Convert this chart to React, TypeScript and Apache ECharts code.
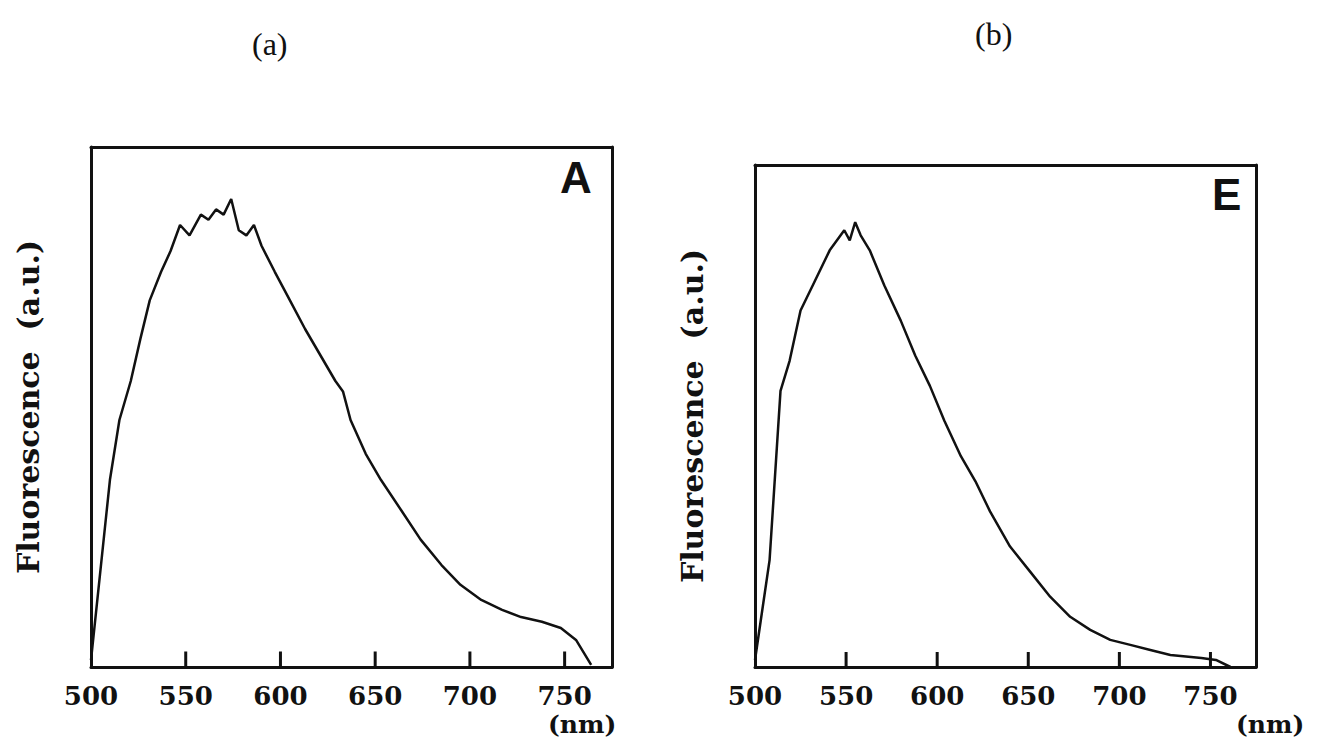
import React, { useEffect, useRef } from 'react';
import * as echarts from 'echarts';

const waveA = [500, 510, 515, 521, 526, 531, 537, 542, 547, 552, 558, 562, 566, 570, 574, 578, 582, 586, 590, 597, 605, 613, 621, 629, 633, 637, 645, 653, 664, 674, 685, 695, 706, 717, 727, 738, 748, 756, 764];
const fluoA = [0.013, 0.36, 0.475, 0.55, 0.63, 0.705, 0.76, 0.8, 0.85, 0.83, 0.87, 0.86, 0.88, 0.87, 0.9, 0.84, 0.83, 0.85, 0.81, 0.76, 0.705, 0.65, 0.6, 0.55, 0.53, 0.475, 0.41, 0.36, 0.3, 0.245, 0.196, 0.158, 0.129, 0.11, 0.096, 0.087, 0.075, 0.052, 0.004];
const waveB = [500, 508, 514, 519, 525, 533, 541, 549, 552, 555, 558, 563, 571, 580, 588, 596, 604, 613, 621, 629, 640, 651, 662, 673, 684, 695, 706, 717, 728, 745, 753, 761];
const fluoB = [0.014, 0.213, 0.55, 0.61, 0.71, 0.77, 0.83, 0.87, 0.85, 0.886, 0.86, 0.83, 0.76, 0.69, 0.62, 0.56, 0.49, 0.42, 0.37, 0.31, 0.24, 0.19, 0.14, 0.1, 0.074, 0.054, 0.044, 0.034, 0.024, 0.018, 0.014, 0];
const tickWaves = [550, 600, 650, 700, 750];

const serif = 'DejaVu Serif';
const line = { show: true, onZero: false, lineStyle: { color: '#111', width: 3 } };

function xAxes(gridIndex: number) {
  return [
    {
      gridIndex, type: 'value', position: 'bottom', min: 500, max: 775, interval: 50, axisLine: line,
      axisTick: { show: false },
      axisLabel: { color: '#111', fontFamily: serif, fontWeight: 'bold', fontSize: 26, margin: 16,
        formatter: (v: number) => (v <= 750 ? String(v) : '') },
      splitLine: { show: false },
    },
    { gridIndex, type: 'value', position: 'top', min: 500, max: 775, axisLine: line, axisTick: { show: false }, axisLabel: { show: false }, splitLine: { show: false } },
  ];
}
function yAxes(gridIndex: number) {
  return [
    { gridIndex, type: 'value', position: 'left', min: 0, max: 1, axisLine: line, axisTick: { show: false }, axisLabel: { show: false }, splitLine: { show: false },
      name: 'Fluorescence  (a.u.)', nameLocation: 'middle', nameGap: 48, nameRotate: 90,
      nameTextStyle: { color: '#111', fontFamily: serif, fontWeight: 'bold', fontSize: 30 } },
    { gridIndex, type: 'value', position: 'right', min: 0, max: 1, axisLine: line, axisTick: { show: false }, axisLabel: { show: false }, splitLine: { show: false } },
  ];
}

// short vertical strokes on the x axis, drawn as broken line segments
const tickSeries = (axis: number) => ({
  type: 'line', xAxisIndex: axis, yAxisIndex: axis, symbol: 'none', connectNulls: false, z: 10,
  lineStyle: { color: '#111', width: 3 },
  data: tickWaves.flatMap((w) => [[w, 0.001], [w, 0.03], [w, '-']]),
});

const App: React.FC = () => {
  const ref = useRef<HTMLDivElement | null>(null);
  useEffect(() => {
    if (!ref.current) return;
    const chart = echarts.init(ref.current, null, { renderer: 'svg' });
    const txt = (left: number, top: number, text: string, style: any) => ({ type: 'text', left, top, style: { text, fill: '#111', ...style } });
    chart.setOption({
      animation: false,
      backgroundColor: '#fff',
      grid: [
        { left: 91, top: 147, width: 521, height: 520 },
        { left: 755, top: 165, width: 501, height: 502 },
      ],
      xAxis: [...xAxes(0), ...xAxes(1)],
      yAxis: [...yAxes(0), ...yAxes(1)],
      series: [
        { type: 'line', xAxisIndex: 0, yAxisIndex: 0, data: waveA.map((w, i) => [w, fluoA[i]]), symbol: 'none', lineStyle: { color: '#111', width: 2.5 } },
        { type: 'line', xAxisIndex: 2, yAxisIndex: 2, data: waveB.map((w, i) => [w, fluoB[i]]), symbol: 'none', lineStyle: { color: '#111', width: 2.5 } },
        tickSeries(0),
        tickSeries(2),
      ],
      graphic: [
        txt(252, 28, '(a)', { font: '32px "Liberation Serif"' }),
        txt(975, 18, '(b)', { font: '32px "Liberation Serif"' }),
        txt(560, 155, 'A', { font: 'bold 44px "Liberation Sans"' }),
        txt(1212, 172, 'E', { font: 'bold 44px "Liberation Sans"' }),
        txt(548, 712, '(nm)', { font: 'bold 25px "DejaVu Serif"' }),
        txt(1236, 712, '(nm)', { font: 'bold 25px "DejaVu Serif"' }),
      ],
    });
    return () => chart.dispose();
  }, []);
  return <div ref={ref} style={{ position: 'fixed', left: 0, top: 0, width: 1328, height: 754 }} />;
};

export default App;
